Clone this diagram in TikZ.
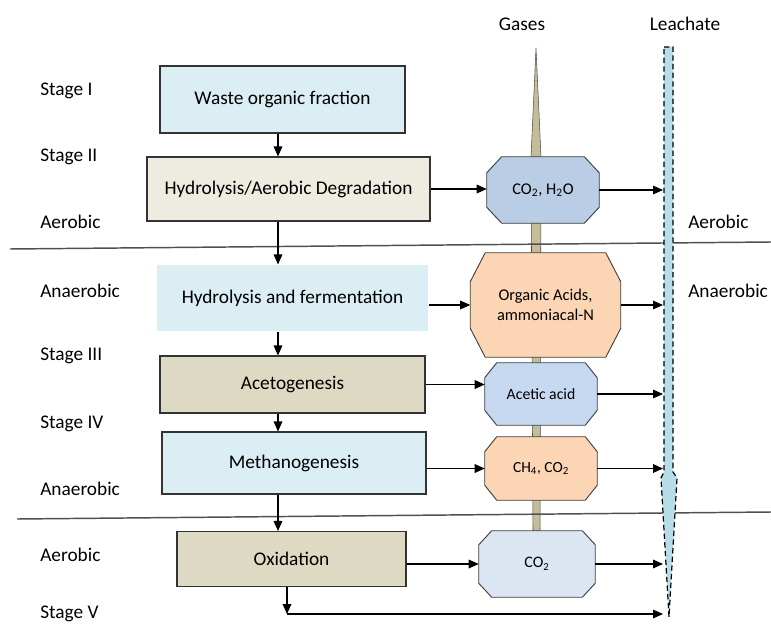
\documentclass[tikz,border=0pt]{standalone}
\usepackage{fontspec}
\setmainfont{Carlito}
\usetikzlibrary{arrows.meta,backgrounds}
\definecolor{lblue}{HTML}{DBEEF4}
\definecolor{lbeige}{HTML}{EEECE1}
\definecolor{dtan}{HTML}{DDD9C3}
\definecolor{gbar}{HTML}{C4BD97}
\definecolor{oblue}{HTML}{B9CDE5}
\definecolor{ored}{HTML}{FCD5B5}
\definecolor{oblue2}{HTML}{C6D9F1}
\definecolor{oblue3}{HTML}{DCE6F2}
\definecolor{leachc}{HTML}{B7DEE8}
\definecolor{divc}{HTML}{505050}

\begin{document}
\begin{tikzpicture}[x=0.75pt,y=-0.75pt,>={Triangle[length=7.5pt,width=6.5pt]},
  sz/.style 2 args={minimum width=#1*0.75pt,minimum height=#2*0.75pt},
  big/.style={font=\fontsize{14.5}{17}\selectfont},
  small/.style={font=\fontsize{12.3}{15}\selectfont,align=center},
  stagebox/.style={big,draw=black!80,line width=0.8pt,inner sep=0pt},
  lbl/.style={big,anchor=west,inner sep=0pt},
  gasnode/.style={small,inner sep=0pt},
  flow/.style={->,line width=0.8pt}]
\useasboundingbox (0,0) rectangle (771,624);

% column titles and side labels
\node[big] (gases) at (522,24) {Gases};
\node[big] (leachate) at (685,24) {Leachate};
\node[lbl] (s1) at (40,91) {Stage I};
\node[lbl] (s2) at (40,157) {Stage II};
\node[lbl] (aer1) at (40,222) {Aerobic};
\node[lbl] (ana1) at (40,291) {Anaerobic};
\node[lbl] (s3) at (40,356) {Stage III};
\node[lbl] (s4) at (40,424) {Stage IV};
\node[lbl] (ana2) at (40,489) {Anaerobic};
\node[lbl] (aer2) at (40,555) {Aerobic};
\node[lbl] (s5) at (40,614) {Stage V};
\node[lbl] (aerR) at (688,222) {Aerobic};
\node[lbl] (anaR) at (688,291) {Anaerobic};

% dividers
\draw[divc,line width=1.1pt] (10,249) -- (771,242);
\draw[divc,line width=1.1pt] (17,519) -- (771,512);

% process boxes
\node[stagebox,fill=lblue,sz={245}{67}] (waste) at (282.5,99.5) {Waste organic fraction};
\node[stagebox,fill=lbeige,sz={283}{64}] (hydA) at (288.5,189) {Hydrolysis/Aerobic Degradation};
\node[stagebox,draw=none,fill=lblue,sz={271}{66}] (hydB) at (292.5,298) {Hydrolysis and fermentation};
\node[stagebox,fill=dtan,sz={265}{57}] (aceto) at (292.5,384.5) {Acetogenesis};
\node[stagebox,fill=lblue,sz={264}{62}] (metha) at (294,463) {Methanogenesis};
\node[stagebox,fill=dtan,sz={229}{55}] (oxid) at (291.5,559) {Oxidation};

% gas products
\node[gasnode,sz={112}{66}] (gasA) at (543,190) {CO\textsubscript{2}, H\textsubscript{2}O};
\node[gasnode,sz={150}{104}] (gasB) at (545.5,305) {Organic Acids,\\ammoniacal-N};
\node[gasnode,font=\fontsize{11.8}{14}\selectfont,sz={112}{62}] (gasC) at (541,394) {Acetic acid};
\node[gasnode,font=\fontsize{11.6}{14}\selectfont,sz={112}{63}] (gasD) at (541,468.5) {CH\textsubscript{4}, CO\textsubscript{2}};
\node[gasnode,font=\fontsize{12}{14}\selectfont,sz={116}{66}] (gasE) at (537,564) {CO\textsubscript{2}};

\begin{scope}[on background layer]
\draw[fill=gbar,draw=black!70,line width=0.4pt] (536,48) -- (541,157) -- (540,531) -- (533,531) -- (531,157) -- cycle;
\foreach \n/\c/\dx/\dy in {gasA/oblue/15/16,gasB/ored/15/29,gasC/oblue2/12/15,gasD/ored/12/15,gasE/oblue3/13/14}
  \draw[fill=\c,draw=black!75,line width=0.7pt]
    ([xshift=\dx*0.75pt]\n.north west) -- ([xshift=-\dx*0.75pt]\n.north east)
    -- ([yshift=-\dy*0.75pt]\n.north east) -- ([yshift=\dy*0.75pt]\n.south east)
    -- ([xshift=-\dx*0.75pt]\n.south east) -- ([xshift=\dx*0.75pt]\n.south west)
    -- ([yshift=\dy*0.75pt]\n.south west) -- ([yshift=-\dy*0.75pt]\n.north west) -- cycle;
\end{scope}

% leachate column
\draw[fill=leachc,dash pattern=on 4pt off 2.5pt,line width=0.9pt] (664,47) -- (673,47) -- (673,472) -- (677,478)
  -- (669,617) -- (661,478) -- (664,472) -- cycle;
\coordinate (leach) at (663,0);
\coordinate (spine) at (278,0);
\coordinate (bend) at (287,614);

% flows
\draw[flow] (waste.south -| spine) -- (hydA.north -| spine);
\draw[flow] (hydA.south -| spine) -- (hydB.north -| spine);
\draw[flow] (hydB.south -| spine) -- (aceto.north -| spine);
\draw[flow] (aceto.south -| spine) -- (metha.north -| spine);
\draw[flow] (metha.south -| spine) -- (oxid.north -| spine);
\draw[flow] (oxid.south -| bend) -- (bend);
\draw[flow] (bend) -- (bend -| leach);
\draw[flow] (hydA.east) -- (hydA.east -| gasA.west);
\draw[flow] (hydB.east |- gasB.west) -- (gasB.west);
\draw[flow] (aceto.east) -- (aceto.east -| gasC.west);
\draw[flow] (metha.east |- gasD.west) -- (gasD.west);
\draw[flow] (oxid.east |- gasE.west) -- (gasE.west);
\foreach \n in {gasA,gasB,gasC,gasD,gasE}
  \draw[flow] (\n.east) -- (\n.east -| leach);
\end{tikzpicture}
\end{document}
